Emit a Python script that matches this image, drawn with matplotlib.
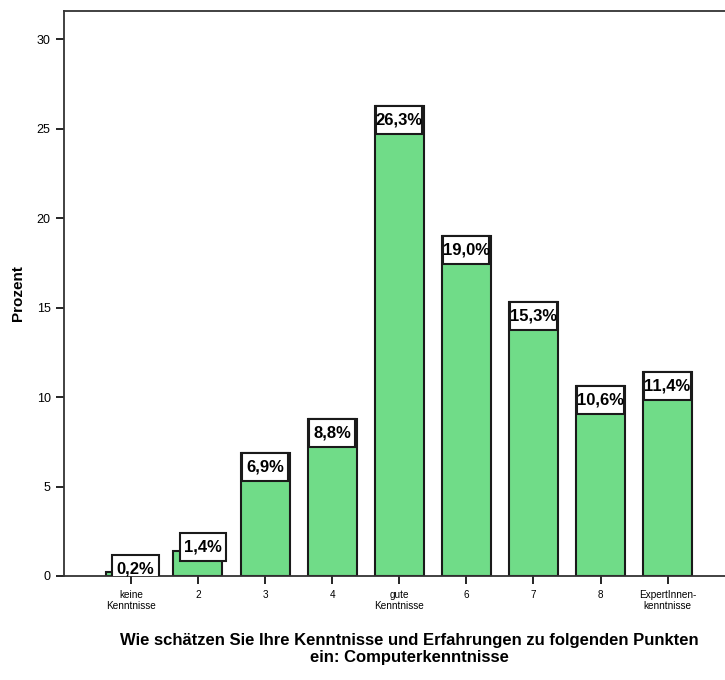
import matplotlib.pyplot as plt
from matplotlib.patches import Rectangle

plt.rcParams['font.family'] = ['Liberation Sans', 'DejaVu Sans']

# Daten
categories = ["keine\nKenntnisse", "2", "3", "4", "gute\nKenntnisse", "6", "7", "8", "ExpertInnen-\nkenntnisse"]
values = [0.2, 1.4, 6.9, 8.8, 26.3, 19.0, 15.3, 10.6, 11.4]
labels = ["0,2%", "1,4%", "6,9%", "8,8%", "26,3%", "19,0%", "15,3%", "10,6%", "11,4%"]
yticks = [0, 5, 10, 15, 20, 25, 30]

fig = plt.figure(figsize=(7.25, 6.8), dpi=100)
ax = fig.add_axes([0.088, 0.153, 0.93, 0.831])

x = list(range(len(values)))
bar_w = 0.73
ax.bar(x, values, width=bar_w, color="#70dc88", edgecolor="#1a1a1a", linewidth=1.5, zorder=2)

# Wertelabels als weisse Kaesten
box_h = 1.57
for xi, v, lab in zip(x, values, labels):
    if v >= box_h:
        top = v
        dx = 0.0
    else:
        top = v + 1.0
        dx = 0.07
    ax.add_patch(Rectangle((xi - bar_w / 2 + 0.02 + dx, top - box_h), bar_w - 0.04, box_h,
                           facecolor="white", edgecolor="#1a1a1a", linewidth=1.5, zorder=3))
    ax.text(xi + dx, top - box_h / 2, lab, ha="center", va="center", fontsize=12,
            fontweight="bold", zorder=4)

ax.set_xlim(-1, 9.05)
ax.set_ylim(0, 31.6)
ax.set_yticks(yticks)
ax.set_xticks(x)
ax.set_xticklabels(categories, fontsize=7.2)
ax.tick_params(axis="y", labelsize=9, length=6, width=1.2, direction="out")
ax.tick_params(axis="x", length=6, width=1.2, direction="out", pad=4)

for side in ["left", "top", "bottom"]:
    ax.spines[side].set_color("#333333")
    ax.spines[side].set_linewidth(1.3)
ax.spines["right"].set_visible(False)

ax.set_ylabel("Prozent", fontsize=11, fontweight="bold", labelpad=8)
fig.text(0.565, 0.046, "Wie schätzen Sie Ihre Kenntnisse und Erfahrungen zu folgenden Punkten\nein: Computerkenntnisse",
         ha="center", va="center", fontsize=12, fontweight="bold", linespacing=1.15)

fig.savefig("out.png", dpi=100)
